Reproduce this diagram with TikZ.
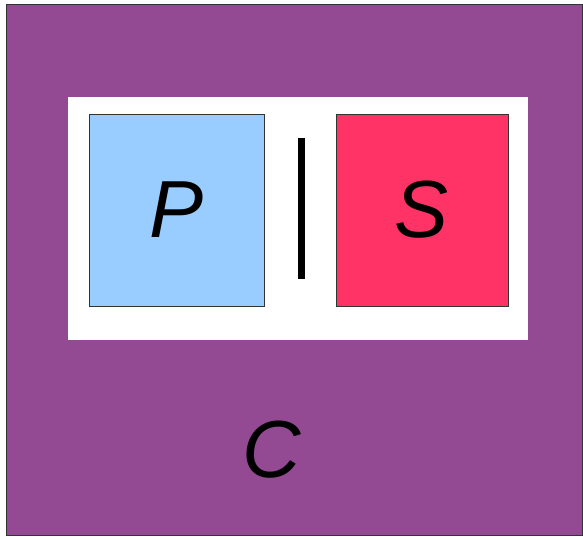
\documentclass[tikz,border=0pt]{standalone}
\usepackage{fontspec}
\setsansfont{Liberation Sans}
\usetikzlibrary{positioning}
\definecolor{cellpurple}{RGB}{148,74,146}
\definecolor{pblue}{RGB}{153,204,255}
\definecolor{sred}{RGB}{255,51,102}
\begin{document}
\begin{tikzpicture}[
			x=1pt,y=-1pt,
			box/.style={
				draw=black!80,
				line width=0.8pt,
				inner sep=0pt,
				font=\fontsize{81}{90}\selectfont\sffamily\itshape
			}
			]
			\useasboundingbox (0,0) rectangle (583,537);
			
			%%%%%%%%%%%%%%%%%%%%%%%%%%%%%%%%%%%%%%%%%%%%%%%%%%%%%%%%%%%%
			% Outer cell
			%%%%%%%%%%%%%%%%%%%%%%%%%%%%%%%%%%%%%%%%%%%%%%%%%%%%%%%%%%%%
			
			\node (cell) [box,fill=cellpurple,minimum width=576pt,minimum height=531pt]
			at (294,269.5) {};
			
			\node (clabel) [inner sep=0pt,font=\fontsize{81}{90}\selectfont\sffamily\itshape]
			at (272,450) {C};
			
			%%%%%%%%%%%%%%%%%%%%%%%%%%%%%%%%%%%%%%%%%%%%%%%%%%%%%%%%%%%%
			% Inner frame
			%%%%%%%%%%%%%%%%%%%%%%%%%%%%%%%%%%%%%%%%%%%%%%%%%%%%%%%%%%%%
			
			\node (frame) [fill=white,inner sep=0pt,minimum width=460pt,minimum height=243pt]
			at (298,218.5) {};
			
			\node (pbox) [box,fill=pblue,minimum width=175pt,minimum height=192pt]
			at (176.5,210) {P};
			
			\node (sbox) [box,fill=sred,minimum width=172pt,minimum height=192pt]
			at (422,210) {S};
			
			% Separator
			
			\coordinate (bartop) at (301.5,138);
			\coordinate (barbot) at (301.5,279);
			
			\draw[line width=7pt] (bartop) -- (barbot);
			
		\end{tikzpicture}
\end{document}
